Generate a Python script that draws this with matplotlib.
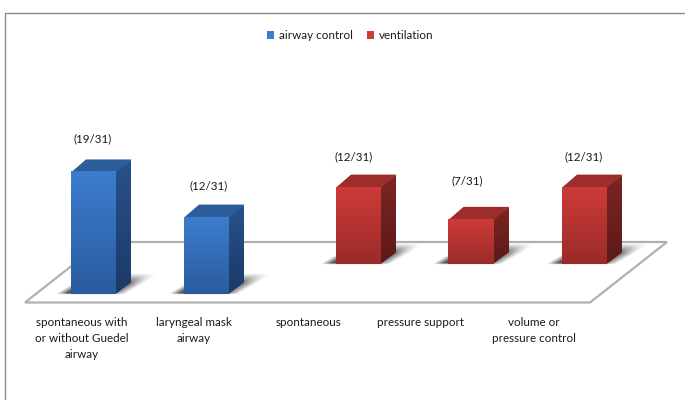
import numpy as np
import matplotlib
matplotlib.use('Agg')
import matplotlib.pyplot as plt
from matplotlib.colors import LinearSegmentedColormap
from matplotlib.patches import Polygon, Rectangle

categories = ['spontaneous with\nor without Guedel\nairway', 'laryngeal mask\nairway',
              'spontaneous', 'pressure support', 'volume or\npressure control']
counts = [19, 12, 12, 7, 12]
total = 31
series_names = ['airway control', 'ventilation']
series_of_bar = [0, 0, 1, 1, 1]

plt.rcParams['font.family'] = ['Lato', 'DejaVu Sans']

# per series: front top, front bottom, side top, side bottom, top face
colours = [('#3d7dcf', '#2a5b9e', '#27528c', '#1b3a68', '#2b5d9b'),
           ('#cd3b39', '#9b2b29', '#7e2523', '#5b1a18', '#9d2d2b')]

px_per_case = 6.45
bar_w = 45.5
depth_x = 15
depth_y = 12
bar_left = [71, 184, 336, 448.5, 562]
bar_base = [294, 294, 264, 264, 264]
label_cx = [82, 194, 309, 421, 534]
value_x = [93, 209, 354, 467, 584]
value_y = [139, 186, 157, 181, 157]

fig = plt.figure(figsize=(6.85, 4), dpi=100)
ax = fig.add_axes([0, 0, 1, 1])


def gradient_face(pts, c_top, c_bottom):
    # vertical gradient clipped to a polygon
    pts = np.array(pts)
    cmap = LinearSegmentedColormap.from_list('face', [c_top, c_bottom])
    g = np.linspace(0, 1, 64).reshape(-1, 1)
    extent = [pts[:, 0].min(), pts[:, 0].max(), pts[:, 1].max(), pts[:, 1].min()]
    im = ax.imshow(g, cmap=cmap, extent=extent, aspect='auto', zorder=4, interpolation='bilinear')
    clip = Polygon(pts, closed=True, transform=ax.transData, fill=False, edgecolor='none')
    ax.add_patch(clip)
    im.set_clip_path(clip)


def ramp(v, a, b):
    return np.clip((v - a) / (b - a), 0, 1)


def floor_shadow(x0, x1, yb):
    # blurred skewed shadow lying on the floor behind a bar
    xs = np.arange(x0 - 25, x1 + 50, 0.5)
    ys = np.arange(yb - 28, yb + 3, 0.5)
    xx, yy = np.meshgrid(xs, ys)
    u = xx - (yb - yy) * 1.7
    alpha = ramp(u, x0 - 15, x0 - 4) * (1 - ramp(u, x1 - 6, x1 + 10))
    alpha = alpha * ramp(yy, yb - 20, yb - 9) * (1 - ramp(yy, yb, yb + 1))
    rgba = np.zeros(xx.shape + (4,))
    rgba[..., :3] = 0.2
    rgba[..., 3] = alpha * 0.85
    ax.imshow(rgba, extent=[xs[0], xs[-1], ys[-1], ys[0]], aspect='auto', zorder=3, interpolation='bilinear')


# outer frame
ax.plot([5, 5, 685], [400, 12.5, 12.5], color='#8a8a8a', lw=1.0, zorder=1)

# floor of the chart
floor = Polygon([(25, 302.5), (590, 302.5), (667, 242), (102, 242)], closed=True,
                facecolor='white', edgecolor='#b0b0b0', lw=1.6, zorder=2)
ax.add_patch(floor)

for i, n in enumerate(counts):
    x0 = bar_left[i]
    x1 = x0 + bar_w
    yb = bar_base[i]
    yt = yb - n * px_per_case
    c = colours[series_of_bar[i]]

    floor_shadow(x0, x1, yb)

    # side and top run a little under the front face so no seam shows
    gradient_face([(x1 - 1, yt), (x1 + depth_x, yt - depth_y), (x1 + depth_x, yb - depth_y), (x1 - 1, yb)], c[2], c[3])
    ax.add_patch(Polygon([(x0, yt + 1), (x1, yt + 1), (x1 + depth_x, yt - depth_y), (x0 + depth_x, yt - depth_y)],
                         closed=True, facecolor=c[4], edgecolor='none', zorder=4))
    gradient_face([(x0, yt), (x1, yt), (x1, yb), (x0, yb)], c[0], c[1])

    ax.text(value_x[i], value_y[i], '(%d/%d)' % (n, total), ha='center', va='center',
            fontsize=8.4, color='#1a1a1a', zorder=5)

    ax.text(label_cx[i], 316.5, categories[i], ha='center', va='top', fontsize=8.4,
            color='#1a1a1a', linespacing=1.58, zorder=5)

# legend
legend_x = [267, 367]
for j, name in enumerate(series_names):
    ax.add_patch(Rectangle((legend_x[j], 31), 7, 8, facecolor=colours[j][0], edgecolor='none', zorder=5))
    ax.text(legend_x[j] + 12, 35.5, name, ha='left', va='center', fontsize=8.4, color='#1a1a1a', zorder=5)

ax.set_xlim(0, 685)
ax.set_ylim(400, 0)
ax.axis('off')

fig.savefig('out.png', dpi=100, facecolor='white')
